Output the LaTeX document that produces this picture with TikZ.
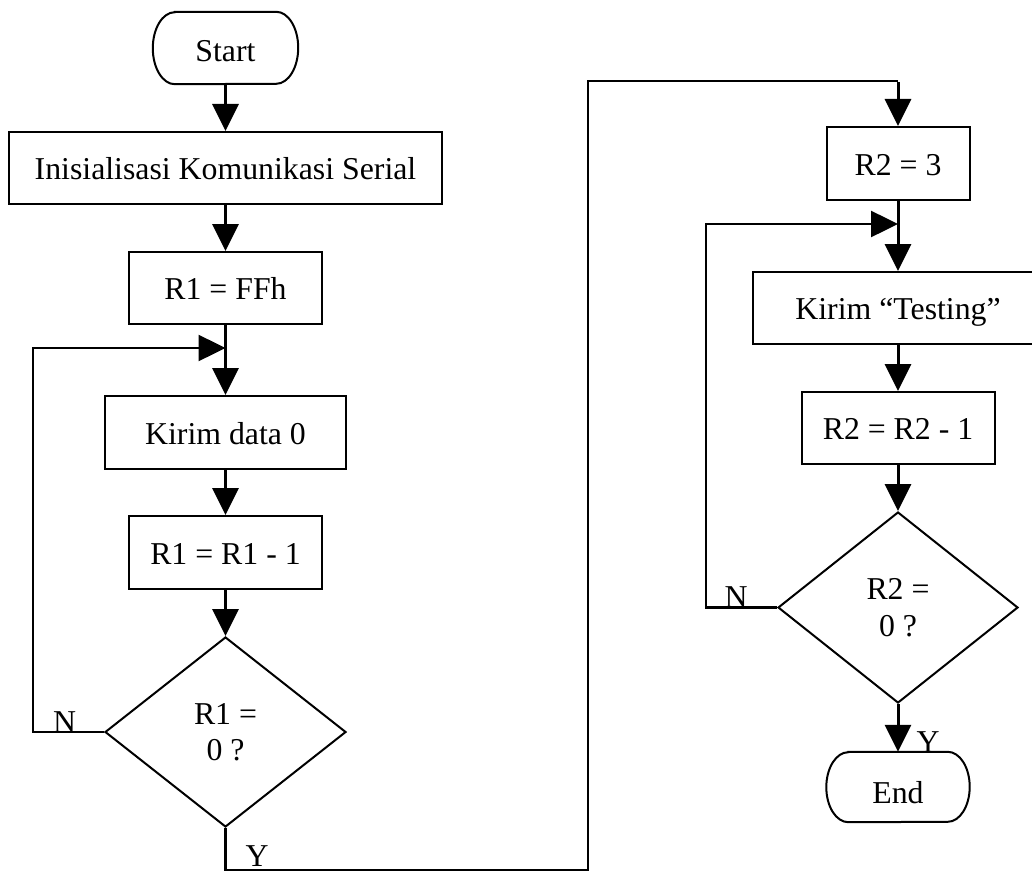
\documentclass[tikz,border=0pt]{standalone}
\usepackage{fontspec}
\setmainfont{Liberation Serif}
\usetikzlibrary{arrows.meta,shapes.geometric}
\newcommand\flowfont{\fontsize{31.8}{36.5}\selectfont}
\tikzset{
  box/.style={draw, line width=2pt, rectangle, inner sep=0pt, font=\flowfont,
    text height=23pt, text depth=0pt},
  term/.style={rectangle, inner sep=0pt, font=\flowfont, text depth=0pt},
  termline/.style={line width=2pt},
  dec/.style={draw, diamond, line width=2pt, inner sep=0pt, font=\flowfont,
    align=center, minimum width=241pt, minimum height=190pt},
  flow/.style={line width=3pt, -{Triangle[length=27pt,width=26pt]}},
  loopline/.style={line width=2.5pt, -{Triangle[length=27pt,width=26pt]}},
  lbl/.style={font=\flowfont, inner sep=0pt, anchor=base}
}
\begin{document}
\begin{tikzpicture}[x=1pt,y=-1pt]
\useasboundingbox (0,0) rectangle (1032,872);
\clip (0,0) rectangle (1032,872);
% left column
\node[term, minimum width=145pt, minimum height=72pt, text height=28pt] (start) at (225.5,48) {Start};
\draw[termline] ([xshift=22pt]start.north west) -- ([xshift=-22pt]start.north east)
  arc[start angle=90, end angle=-90, x radius=22pt, y radius=36pt]
  -- ([xshift=22pt]start.south west)
  arc[start angle=270, end angle=90, x radius=22pt, y radius=36pt] -- cycle;
\node[box, minimum width=433pt, minimum height=72pt] (init) at (225.5,168) {Inisialisasi Komunikasi Serial};
\node[box, minimum width=193pt, minimum height=72pt] (r1) at (225.5,288) {R1 = FFh};
\node[box, minimum width=241pt, minimum height=73pt] (kirim0) at (225.5,432.5) {Kirim data 0};
\node[box, minimum width=193pt, minimum height=73pt] (r1dec) at (225.5,552.5) {R1 = R1 - 1};
\node[dec] (d1) at (225.5,732) {R1 =\\0 ?};
% right column
\node[box, minimum width=143pt, minimum height=73pt] (r2) at (898,163.5) {R2 = 3};
\node[box, minimum width=290pt, minimum height=72pt] (kirimT) at (898,308) {Kirim “Testing”};
\node[box, minimum width=193pt, minimum height=72pt] (r2dec) at (898,428) {R2 = R2 - 1};
\node[dec, minimum width=240pt, minimum height=191pt] (d2) at (898,607.5) {R2 =\\0 ?};
\node[term, minimum width=143pt, minimum height=70pt, text height=32pt] (end) at (898,787) {End};
\draw[termline] ([xshift=22pt]end.north west) -- ([xshift=-22pt]end.north east)
  arc[start angle=90, end angle=-90, x radius=22pt, y radius=35pt]
  -- ([xshift=22pt]end.south west)
  arc[start angle=270, end angle=90, x radius=22pt, y radius=35pt] -- cycle;
% junctions and routing points
\coordinate (j1) at (225.5,348);
\coordinate (j2) at (898,224);
\coordinate (n1) at (33,732);
\coordinate (n2) at (706,607.5);
\coordinate (yb) at (588,870);
\coordinate (yt) at (898,81);
% connectors
\draw[flow] (start) -- (init);
\draw[flow] (init) -- (r1);
\draw[flow] (r1) -- (kirim0);
\draw[flow] (kirim0) -- (r1dec);
\draw[flow] (r1dec) -- (d1);
\draw[loopline] (d1.west) -- (n1) |- (j1);
\draw[line width=2.2pt] (d1.south) |- (yb) |- (yt);
\draw[flow] ([yshift=-1.1pt]yt) -- (r2);
\draw[flow] (r2) -- (kirimT);
\draw[loopline] (d2.west) -- (n2) |- (j2);
\draw[flow] (kirimT) -- (r2dec);
\draw[flow] (r2dec) -- (d2);
\draw[flow] (d2) -- (end);
% labels
\node[lbl] (nl1) at (64.5,732) {N};
\node[lbl] (yl1) at (257,866) {Y};
\node[lbl] (nl2) at (736,607.5) {N};
\node[lbl] (yl2) at (928,752) {Y};
\end{tikzpicture}
\end{document}
